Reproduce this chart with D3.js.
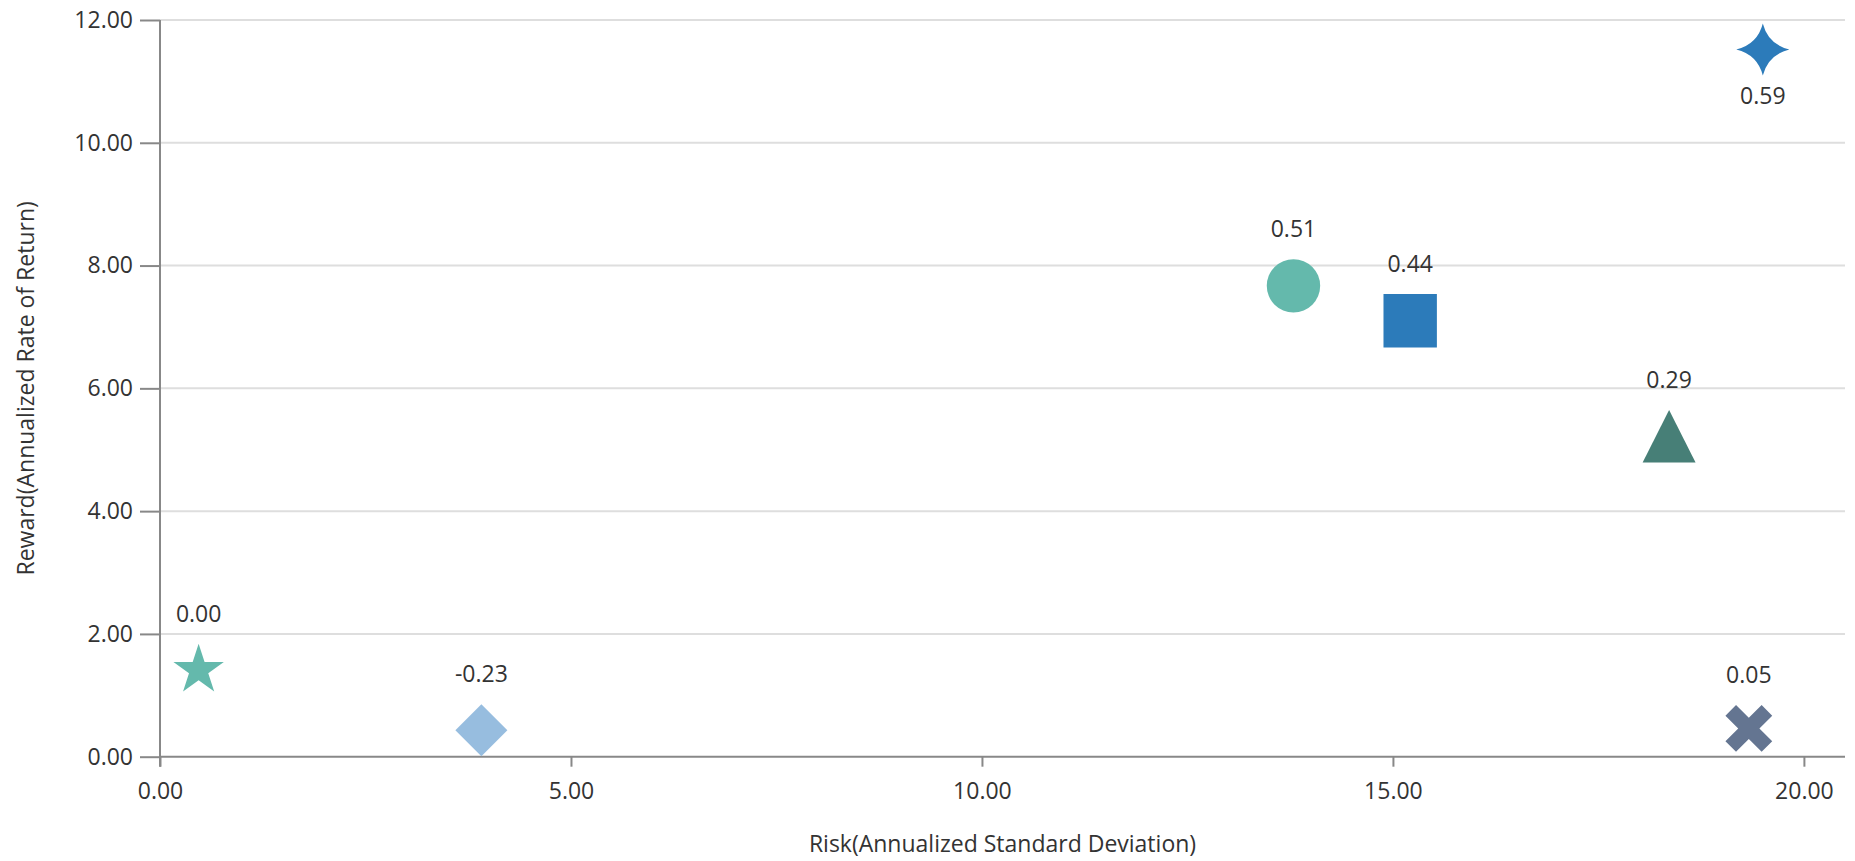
<!DOCTYPE html>
<html>
<head>
<meta charset="utf-8">
<script src="https://cdn.jsdelivr.net/npm/d3@7"></script>
<style>
  html, body { margin: 0; padding: 0; background: #fff; }
  svg { display: block; }
  text { font-family: "Open Sans", "DejaVu Sans", sans-serif; fill: #333; }
</style>
</head>
<body>
<svg id="chart" width="1855" height="861"></svg>
<script>
// Risk / reward of each holding, with its Sharpe ratio label
const risk   = [0.47, 3.91, 13.79, 15.21, 18.36, 19.50, 19.33];
const reward = [1.41, 0.43, 7.67, 7.10, 5.22, 11.52, 0.46];
const sharpe = ["0.00", "-0.23", "0.51", "0.44", "0.29", "0.59", "0.05"];

// Axis ticks
const xTicks = [0, 5, 10, 15, 20];
const yTicks = [0, 2, 4, 6, 8, 10, 12];

// Marker appearance for each point
const markerShapes = ["star", "diamond", "circle", "square", "triangle", "sparkle", "cross"];
const markerColors = ["#64b9ac", "#97bddf", "#64b9ac", "#2c7bba", "#477f77", "#2c7bba", "#647591"];

const width = 1855, height = 861;
const margin = { top: 20, right: 10, bottom: 104.3, left: 160 };
const plotW = width - margin.left - margin.right;
const plotH = height - margin.top - margin.bottom;

const x = d3.scaleLinear().domain([0, 20.5]).range([0, plotW]);
const y = d3.scaleLinear().domain([0, 12]).range([plotH, 0]);

// Custom symbol types; "size" is the half-extent in pixels
const shapeDefs = {
  star: {
    above: s => s,
    below: s => s * 0.809,
    draw(ctx, R) {
      const r = R * 0.382;
      for (let i = 0; i < 10; i++) {
        const a = -Math.PI / 2 + i * Math.PI / 5;
        const rad = i % 2 === 0 ? R : r;
        const px = rad * Math.cos(a), py = rad * Math.sin(a);
        if (i === 0) ctx.moveTo(px, py); else ctx.lineTo(px, py);
      }
      ctx.closePath();
    }
  },
  diamond: {
    above: s => s, below: s => s,
    draw(ctx, s) {
      ctx.moveTo(0, -s); ctx.lineTo(s, 0); ctx.lineTo(0, s); ctx.lineTo(-s, 0); ctx.closePath();
    }
  },
  circle: {
    above: s => s, below: s => s,
    draw(ctx, s) { ctx.moveTo(s, 0); ctx.arc(0, 0, s, 0, 2 * Math.PI); }
  },
  square: {
    above: s => s, below: s => s,
    draw(ctx, s) { ctx.rect(-s, -s, 2 * s, 2 * s); }
  },
  triangle: {
    above: s => s, below: s => s,
    draw(ctx, s) {
      const w = s * 1.01;
      ctx.moveTo(0, -s); ctx.lineTo(w, s); ctx.lineTo(-w, s); ctx.closePath();
    }
  },
  sparkle: {
    above: s => s, below: s => s,
    draw(ctx, s) {
      const ry = s, rx = s * 1.02, k = 0.2;
      ctx.moveTo(0, -ry);
      ctx.quadraticCurveTo(k * rx, -k * ry, rx, 0);
      ctx.quadraticCurveTo(k * rx, k * ry, 0, ry);
      ctx.quadraticCurveTo(-k * rx, k * ry, -rx, 0);
      ctx.quadraticCurveTo(-k * rx, -k * ry, 0, -ry);
      ctx.closePath();
    }
  },
  cross: {
    above: s => s, below: s => s,
    draw(ctx, s) {
      // plus sign rotated by 45 degrees; s is the bounding half-width
      const t = s * 0.32, L = s * Math.SQRT2 - t;
      const pts = [[t,-L],[t,-t],[L,-t],[L,t],[t,t],[t,L],[-t,L],[-t,t],[-L,t],[-L,-t],[-t,-t],[-t,-L]];
      const c = Math.SQRT1_2;
      pts.forEach(([px, py], i) => {
        const rx = px * c - py * c, ry = px * c + py * c;
        if (i === 0) ctx.moveTo(rx, ry); else ctx.lineTo(rx, ry);
      });
      ctx.closePath();
    }
  }
};
const shapeSize = { star: 26.5, diamond: 26, circle: 26.7, square: 26.7, triangle: 26.2, sparkle: 26, cross: 23.4 };

const svg = d3.select("#chart");
const g = svg.append("g").attr("transform", `translate(${margin.left},${margin.top})`);

// Horizontal gridlines
g.append("g")
  .selectAll("line")
  .data(yTicks.filter(v => v > 0))
  .join("line")
  .attr("x1", 0).attr("x2", plotW)
  .attr("y1", d => y(d)).attr("y2", d => y(d))
  .attr("stroke", "#dedede").attr("stroke-width", 2);

// Axes
const fmt = d3.format(".2f");
const yAxis = g.append("g")
  .call(d3.axisLeft(y).tickValues(yTicks).tickFormat(fmt).tickSize(20).tickPadding(7).tickSizeOuter(0));
const xAxis = g.append("g")
  .attr("transform", `translate(0,${plotH})`)
  .call(d3.axisBottom(x).tickValues(xTicks).tickFormat(fmt).tickSize(10).tickPadding(16).tickSizeOuter(0));

[xAxis, yAxis].forEach(ax => {
  ax.select(".domain").attr("stroke", "#888").attr("stroke-width", 2);
  ax.selectAll(".tick line").attr("stroke", "#888").attr("stroke-width", 2);
  ax.selectAll(".tick text")
    .style("font-family", "'Open Sans', sans-serif")
    .style("font-size", "23px").attr("fill", "#333");
});
// the vertical axis runs down to the end of the first horizontal tick
yAxis.select(".domain").attr("d", `M0,0V${plotH + 10}`);
xAxis.select(".domain").attr("d", `M0,0H${plotW}`);

// Axis titles
svg.append("text")
  .attr("x", margin.left + plotW / 2)
  .attr("y", 852)
  .attr("text-anchor", "middle")
  .style("font-size", "23px")
  .text("Risk(Annualized Standard Deviation)");

svg.append("text")
  .attr("transform", `translate(34,${margin.top + plotH / 2}) rotate(-90)`)
  .attr("text-anchor", "middle")
  .style("font-size", "23px")
  .text("Reward(Annualized Rate of Return)");

// Points
const points = risk.map((r, i) => ({
  risk: r, reward: reward[i], label: sharpe[i],
  shape: markerShapes[i], color: markerColors[i]
}));

const symbol = d3.symbol()
  .type(d => shapeDefs[d.shape])
  .size(d => shapeSize[d.shape]);

const pg = g.append("g");
pg.selectAll("path")
  .data(points)
  .join("path")
  .attr("transform", d => `translate(${x(d.risk)},${y(d.reward)})`)
  .attr("d", symbol)
  .attr("fill", d => d.color);

// Sharpe ratio labels: above the marker, or below when there is no room on top
pg.selectAll("text")
  .data(points)
  .join("text")
  .attr("x", d => x(d.risk))
  .attr("y", d => {
    const def = shapeDefs[d.shape], s = shapeSize[d.shape];
    const cy = y(d.reward);
    const above = cy - def.above(s) - 30;
    return above - 12 < 0 ? cy + def.below(s) + 20 : above;
  })
  .attr("dy", "0.35em")
  .attr("text-anchor", "middle")
  .style("font-size", "23px")
  .text(d => d.label);
</script>
</body>
</html>
